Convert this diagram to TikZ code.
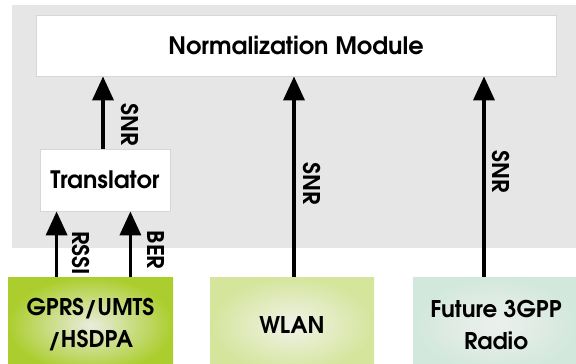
\documentclass[tikz,border=0pt]{standalone}
\usepackage{fontspec}
\setmainfont{TeX Gyre Adventor}
\usetikzlibrary{arrows.meta}
\definecolor{panel}{HTML}{E6E6E6}
\definecolor{edgegray}{HTML}{D6D6D6}
\definecolor{gprsout}{HTML}{ABCE2E}
\definecolor{gprsin}{HTML}{E9ECDD}
\definecolor{wlanout}{HTML}{D5E59C}
\definecolor{wlanin}{HTML}{F0F2E8}
\definecolor{futout}{HTML}{D2E8DC}
\definecolor{futin}{HTML}{EDF0ED}
\tikzset{
  whitebox/.style={draw=edgegray, line width=0.8pt, fill=white, inner sep=0pt},
  radiobox/.style={inner sep=0pt, align=center, minimum height=96pt},
  txt/.style={font=\fontsize{24}{32}\selectfont\bfseries},
  rtxt/.style={font=\fontsize{23}{32}\selectfont\bfseries},
  arr/.style={line width=3.6pt, -{Triangle[width=21pt,length=24pt]}},
  lbl/.style={rotate=-90, font=\fontsize{23}{23}\selectfont\bfseries, inner sep=0pt}
}
\begin{document}
\begin{tikzpicture}[x=1pt,y=-1pt]
\useasboundingbox (0,0) rectangle (576,364);
% shared panel behind the processing stages
\fill[panel] (12,5) rectangle (576,248);
% processing blocks
\node[whitebox, txt, minimum width=520pt, minimum height=61pt] (norm) at (296,45.5) {Normalization Module};
\node[whitebox, txt, minimum width=130pt, minimum height=62pt] (trans) at (105,180) {Translator};
% radio access technologies
\node[radiobox, rtxt, minimum width=165pt, inner color=gprsin, outer color=gprsout] (gprs) at (90.5,325) {GPRS/UMTS\\/HSDPA};
\node[radiobox, rtxt, minimum width=164pt, inner color=wlanin, outer color=wlanout] (wlan) at (292,325) {WLAN};
\node[radiobox, rtxt, minimum width=166pt, inner color=futin, outer color=futout] (future) at (496,325) {Future 3GPP\\Radio};
% measurement flows
\draw[arr] ([xshift=17pt]trans.south west |- gprs.north) -- ([xshift=17pt]trans.south west);
\draw[arr] ([xshift=-40pt]trans.south east |- gprs.north) -- ([xshift=-40pt]trans.south east);
\draw[arr] ([xshift=-2pt]trans.north) -- ([xshift=-2pt]trans.north |- norm.south);
\draw[arr] ([xshift=2pt]wlan.north) -- ([xshift=2pt]wlan.north |- norm.south);
\draw[arr] ([xshift=-12pt]future.north) -- ([xshift=-12pt]future.north |- norm.south);
% flow labels
\node[lbl] (lrssi) at (81,253) {RSSI};
\node[lbl] (lber) at (156,250) {BER};
\node[lbl] (lsnr1) at (130,125) {SNR};
\node[lbl] (lsnr2) at (312,184) {SNR};
\node[lbl] (lsnr3) at (501,172) {SNR};
\end{tikzpicture}
\end{document}
